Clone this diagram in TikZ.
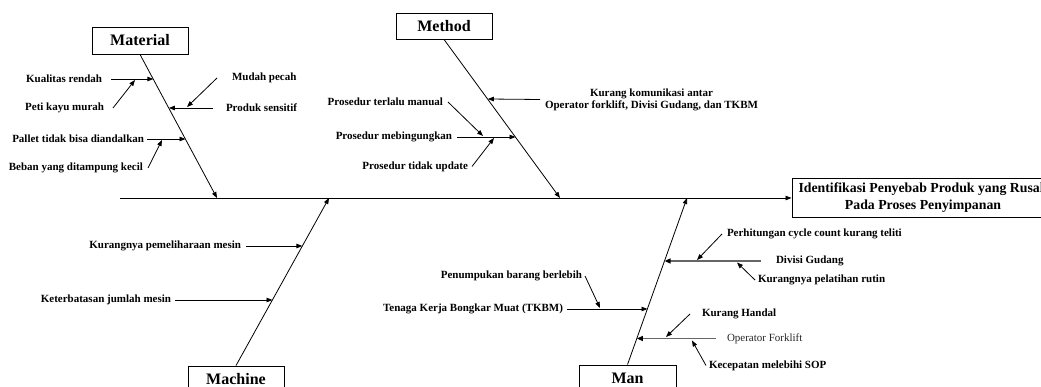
\documentclass[tikz,border=0pt]{standalone}
\usepackage{fontspec}
\setmainfont{Liberation Serif}
\usetikzlibrary{arrows.meta}
\tikzset{
  lbl/.style={font=\fontsize{11}{12}\selectfont\bfseries, inner sep=0pt, outer sep=0pt},
  cat/.style={draw, line width=0.9pt, font=\fontsize{16}{18}\selectfont\bfseries,
              minimum width=96pt, minimum height=27pt, inner sep=0pt},
  bone/.style={line width=0.8pt, -{Triangle[length=6pt,width=4.5pt]}},
  sub/.style={line width=0.8pt, -{Triangle[length=6pt,width=4.5pt]}},
  grayarr/.style={line width=1.5pt, draw=black!60, -{Triangle[length=6pt,width=5pt,color=black]}},
}
\begin{document}
\begin{tikzpicture}[x=1pt,y=-1pt]
\useasboundingbox (0,0) rectangle (1041,387);
\clip (0,0) rectangle (1041,387);

% category boxes
\node[cat] (mat) at (140,40.5) {Material};
\node[cat, minimum height=26pt] (met) at (444,26) {Method};
\node[cat] (mac) at (236,379.5) {Machine};
\node[cat, minimum width=97pt] (man) at (627.5,378.5) {Man};

% effect box
\node[draw, line width=0.9pt, minimum width=262pt, minimum height=39pt, inner sep=0pt,
      align=center, font=\fontsize{13.8}{17}\selectfont\bfseries] (eff) at (923,198)
  {Identifikasi Penyebab Produk yang Rusak\\Pada Proses Penyimpanan};

% spine
\coordinate (tail) at (120,198);
\draw[bone] (tail) -- (eff.west);

% spine attachment points
\coordinate (sM) at (217,198);
\coordinate (sT) at (560,198);
\coordinate (sC) at (329,198);
\coordinate (sN) at (687,198);

% main bones
\draw[bone] (mat.south) -- (sM);
\draw[bone] (met.south) -- (sT);
\draw[bone] (mac.north) -- (sC);
\draw[bone] (man.north) -- (sN);

% ---------- Material ----------
\coordinate (m1) at (153.4,79);
\coordinate (m2) at (168.9,108);
\coordinate (m3) at (185.5,139);
\coordinate (m1b) at (135,80);
\coordinate (m2b) at (187,107);
\coordinate (m3b) at (162,140);
\node[lbl, anchor=east, outer xsep=9pt] (mA) at (111,79) {Kualitas rendah};
\node[lbl, anchor=east, outer xsep=9pt] (mB) at (113,108) {Peti kayu murah};
\node[lbl, anchor=west, outer xsep=15pt] (mC) at (217,78) {Mudah pecah};
\node[lbl, anchor=west, outer xsep=13pt] (mD) at (213,108) {Produk sensitif};
\node[lbl, anchor=east, outer xsep=3pt] (mE) at (147,139) {Pallet tidak bisa diandalkan};
\node[lbl, anchor=east, outer xsep=5pt] (mF) at (148,168) {Beban yang ditampung kecil};
\draw[sub] (mA.east) -- (m1);
\draw[sub] (mB.east) -- (m1b);
\draw[sub] (mC.west) -- (m2b);
\draw[sub] (mD.west) -- (m2);
\draw[sub] (mE.east) -- (m3);
\draw[sub] (mF.east) -- (m3b);

% ---------- Method ----------
\coordinate (t1) at (487.8,99);
\coordinate (t2) at (515.5,137);
\coordinate (t2a) at (483,136);
\coordinate (t2b) at (494,138);
\node[lbl, anchor=west, outer xsep=5pt, align=center] (tD) at (540,99.5)
  {Kurang komunikasi antar\\Operator forklift, Divisi Gudang, dan TKBM};
\node[lbl, anchor=east, outer xsep=5pt] (tA) at (448,102) {Prosedur terlalu manual};
\node[lbl, anchor=east, outer xsep=5pt] (tB) at (457,137) {Prosedur mebingungkan};
\node[lbl, anchor=east, outer xsep=4pt] (tC) at (472,166.5) {Prosedur tidak update};
\draw[sub] (tD.west) -- (t1);
\draw[sub] (tA.east) -- (t2a);
\draw[sub] (tB.east) -- (t2);
\draw[sub] (tC.east) -- (t2b);

% ---------- Machine ----------
\coordinate (c1) at (302.4,246);
\coordinate (c2) at (272.5,300);
\node[lbl, anchor=east, outer xsep=5pt] (cA) at (246,246) {Kurangnya pemeliharaan mesin};
\node[lbl, anchor=east, outer xsep=4pt] (cB) at (175,300) {Keterbatasan jumlah mesin};
\draw[sub] (cA.east) -- (c1);
\draw[sub] (cB.east) -- (c2);

% ---------- Man ----------
\coordinate (n1) at (664.6,261);
\coordinate (n2) at (647.5,309);
\coordinate (n3) at (636.9,338.5);
\coordinate (n1a) at (697,260);
\coordinate (n1b) at (737,262.5);
\coordinate (n2a) at (600,308);
\coordinate (n3a) at (666,337);
\coordinate (n3b) at (692,340.5);
\node[lbl, anchor=east, outer xsep=3pt] (nA) at (585,276) {Penumpukan barang berlebih};
\node[lbl, anchor=east, outer xsep=4pt] (nB) at (567,309) {Tenaga Kerja Bongkar Muat (TKBM)};
\node[lbl, anchor=west, outer xsep=15pt] (nC) at (761,261) {Divisi Gudang};
\node[lbl, anchor=west, outer xsep=5pt] (nD) at (722,234) {Perhitungan cycle count kurang teliti};
\node[lbl, anchor=west, outer xsep=3pt] (nE) at (755,280) {Kurangnya pelatihan rutin};
\node[lbl, anchor=west, outer xsep=11pt, font=\fontsize{11}{12}\selectfont, text=black!85] (nF) at (716,338.5) {Operator Forklift};
\node[lbl, anchor=west, outer xsep=12pt] (nG) at (690,314) {Kurang Handal};
\node[lbl, anchor=west, outer xsep=3pt] (nH) at (706,365.5) {Kecepatan melebihi SOP};
\draw[grayarr] (nC.west) -- (n1);
\draw[grayarr] (nF.west) -- (n3);
\draw[sub] (nA.east) -- (n2a);
\draw[sub] (nB.east) -- (n2);
\draw[sub] (nD.west) -- (n1a);
\draw[sub] (nE.west) -- (n1b);
\draw[sub] (nG.west) -- (n3a);
\draw[sub] (nH.west) -- (n3b);
\end{tikzpicture}
\end{document}
